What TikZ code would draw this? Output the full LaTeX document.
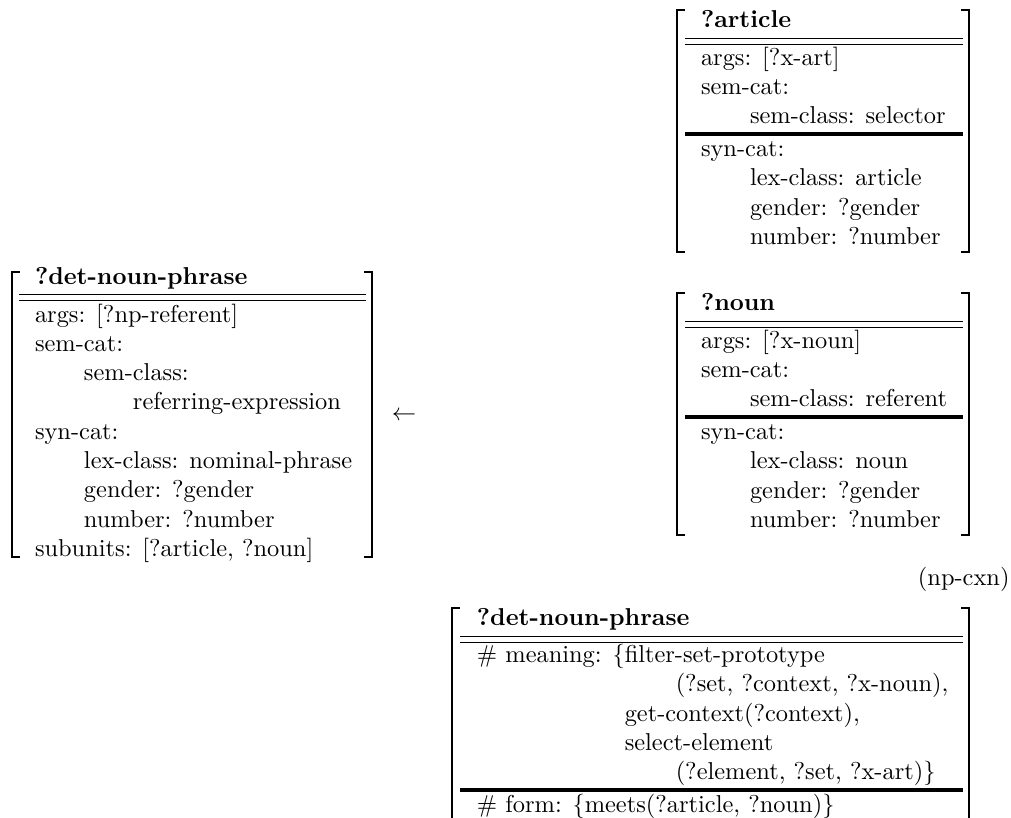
\documentclass[tikz,border=0pt]{standalone}
\usetikzlibrary{calc}
\begin{document}
\begin{tikzpicture}[x=0.4098pt,y=-0.4098pt,
  txt/.style={anchor=base west,inner sep=0pt,outer sep=0pt,font=\fontsize{10}{12}\selectfont},
  ttl/.style={txt,font=\fontsize{10}{12}\selectfont\bfseries},
  brk/.style={line width=0.75pt},
  thinrule/.style={line width=0.4pt},
  heavyrule/.style={line width=1.5pt}]
\useasboundingbox (0,0) rectangle (1011,818);
\clip (0,0) rectangle (1011,818);
\newcommand\avmbrackets[4]{%
  \draw[brk] ({#1+8},#3) -- (#1,#3) -- (#1,#4) -- ({#1+8},#4);
  \draw[brk] ({#2-8},#3) -- (#2,#3) -- (#2,#4) -- ({#2-8},#4);}
\newcommand\avmdouble[3]{%
  \draw[thinrule] (#1,#3) -- (#2,#3);
  \draw[thinrule] (#1,{#3+6}) -- (#2,{#3+6});}

% ---------- left box: ?det-noun-phrase ----------
\avmbrackets{12}{372}{272}{557}
\avmdouble{19}{366}{294.5}
\node[ttl] (lt) at (35,284) {?det-noun-phrase};
\node[txt] (l1) at (35,322) {args: [?np-referent]};
\node[txt] (l2) at (35,351.3) {sem-cat:};
\node[txt] (l3) at (84,380.6) {sem-class:};
\node[txt] (l4) at (133,409.9) {referring-expression};
\node[txt] (l5) at (35,439.2) {syn-cat:};
\node[txt] (l6) at (84,468.5) {lex-class: nominal-phrase};
\node[txt] (l7) at (84,497.8) {gender: ?gender};
\node[txt] (l8) at (84,527.1) {number: ?number};
\node[txt] (l9) at (35,556.4) {subunits: [?article, ?noun]};

% arrow
\node[anchor=base,inner sep=0pt] (arr) at (404,420) {$\leftarrow$};

% ---------- article box ----------
\avmbrackets{677}{969}{10}{252}
\avmdouble{685}{963}{38}
\draw[heavyrule] (685,134.2) -- (963,134.2);
\node[ttl] (at) at (701,27) {?article};
\node[txt] (a1) at (701,65) {args: [?x-art]};
\node[txt] (a2) at (701,94.3) {sem-cat:};
\node[txt] (a3) at (750,123.6) {sem-class: selector};
\node[txt] (a4) at (701,156.5) {syn-cat:};
\node[txt] (a5) at (750,185.8) {lex-class: article};
\node[txt] (a6) at (750,215.1) {gender: ?gender};
\node[txt] (a7) at (750,244.4) {number: ?number};

% ---------- noun box ----------
\avmbrackets{677}{969}{293}{535}
\avmdouble{685}{963}{321}
\draw[heavyrule] (685,417.2) -- (963,417.2);
\node[ttl] (nt) at (701,310) {?noun};
\node[txt] (n1) at (701,348) {args: [?x-noun]};
\node[txt] (n2) at (701,377.3) {sem-cat:};
\node[txt] (n3) at (750,406.6) {sem-class: referent};
\node[txt] (n4) at (701,439.5) {syn-cat:};
\node[txt] (n5) at (750,468.8) {lex-class: noun};
\node[txt] (n6) at (750,498.1) {gender: ?gender};
\node[txt] (n7) at (750,527.4) {number: ?number};

% ---------- label ----------
\node[anchor=base east,inner sep=0pt] (lbl) at (1010,585) {(np-cxn)};

% ---------- bottom box ----------
\avmbrackets{452}{969}{608}{860}
\avmdouble{460}{963}{636}
\draw[heavyrule] (460,790.3) -- (963,790.3);
\node[ttl] (bt) at (477,625) {?det-noun-phrase};
\node[txt] (b1a) at (477,662.5) {\# meaning: \{};
\node[txt] (b1b) at (b1a.base east) {filter-set-prototype};
\node[txt] (b2) at ($(b1b.base west)+(51,29.3)$) {(?set, ?context, ?x-noun),};
\node[txt] (b3) at ($(b1b.base west)+(0,58.6)$) {get-context(?context),};
\node[txt] (b4) at ($(b1b.base west)+(0,87.9)$) {select-element};
\node[txt] (b5) at ($(b1b.base west)+(51,117.2)$) {(?element, ?set, ?x-art)\}};
\node[txt] (b6) at (477,812.6) {\# form: \{meets(?article, ?noun)\}};
\end{tikzpicture}
\end{document}
